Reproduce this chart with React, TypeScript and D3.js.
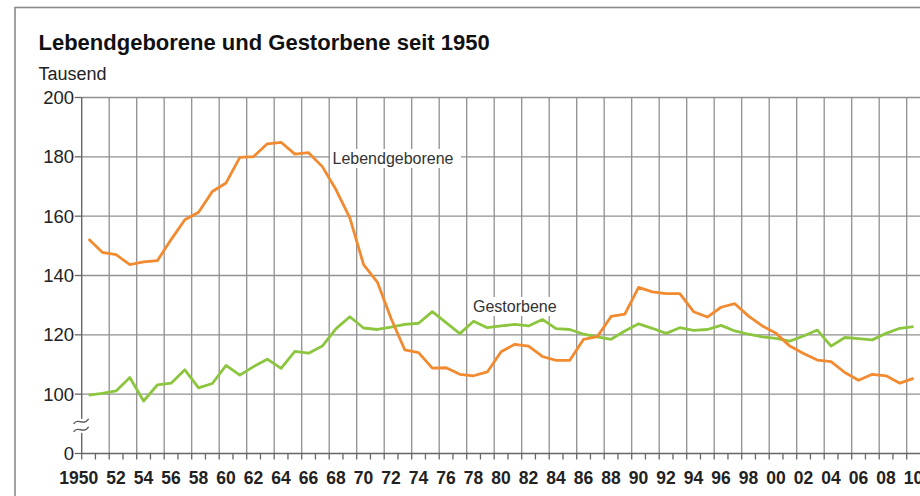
import React from 'react';
import * as d3 from 'd3';

const years = [
  1950, 1951, 1952, 1953, 1954, 1955, 1956, 1957, 1958, 1959,
  1960, 1961, 1962, 1963, 1964, 1965, 1966, 1967, 1968, 1969,
  1970, 1971, 1972, 1973, 1974, 1975, 1976, 1977, 1978, 1979,
  1980, 1981, 1982, 1983, 1984, 1985, 1986, 1987, 1988, 1989,
  1990, 1991, 1992, 1993, 1994, 1995, 1996, 1997, 1998, 1999,
  2000, 2001, 2002, 2003, 2004, 2005, 2006, 2007, 2008, 2009, 2010,
];

const births = [
  152.3, 147.8, 147.0, 143.7, 144.6, 145.0, 152.1, 158.8, 161.3, 168.3,
  171.2, 179.8, 180.1, 184.4, 184.9, 180.9, 181.4, 176.7, 168.9, 159.4,
  143.7, 137.8, 125.5, 114.9, 114.0, 108.8, 108.9, 106.7, 106.2, 107.5,
  114.3, 116.8, 116.2, 112.7, 111.4, 111.4, 118.5, 119.4, 126.2, 127.0,
  136.0, 134.5, 133.9, 133.9, 127.8, 126.0, 129.3, 130.5, 126.3, 123.0,
  120.5, 116.2, 113.7, 111.5, 111.0, 107.3, 104.7, 106.7, 106.2, 103.7, 105.3,
];

const deaths = [
  99.7, 100.3, 101.1, 105.6, 97.7, 103.1, 103.7, 108.2, 102.1, 103.6,
  109.7, 106.4, 109.3, 111.8, 108.7, 114.4, 113.8, 116.2, 122.1, 126.1,
  122.3, 121.8, 122.6, 123.5, 123.9, 127.8, 124.1, 120.4, 124.6, 122.4,
  123.0, 123.5, 123.0, 125.2, 122.1, 121.8, 120.2, 119.3, 118.5, 121.3,
  123.7, 122.2, 120.5, 122.4, 121.5, 121.8, 123.2, 121.3, 120.2, 119.3,
  118.8, 117.9, 119.6, 121.6, 116.2, 119.1, 118.7, 118.3, 120.5, 122.2, 122.8,
];

const yTicks = [0, 100, 120, 140, 160, 180, 200];
const gridValues = [100, 120, 140, 160, 180, 200];
const xLabels = [
  '1950', '52', '54', '56', '58', '60', '62', '64', '66', '68',
  '70', '72', '74', '76', '78', '80', '82', '84', '86', '88',
  '90', '92', '94', '96', '98', '00', '02', '04', '06', '08', '10',
];

const title = 'Lebendgeborene und Gestorbene seit 1950';
const unit = 'Tausend';
const birthLabel = 'Lebendgeborene';
const deathLabel = 'Gestorbene';

const W = 920;
const H = 496;
const FONT = '"Liberation Sans", Arial, Helvetica, sans-serif';

export default function App() {
  const bandW = 13.75;
  const left = 81.7;
  const x = d3
    .scaleBand<number>()
    .domain(years)
    .range([left, left + bandW * years.length])
    .padding(0);
  const yLin = d3.scaleLinear().domain([80, 200]).range([453.5, 97.5]);
  const y = (v: number) => (v === 0 ? yLin(80) : yLin(v));
  const cx = (yr: number) => (x(yr) as number) + x.bandwidth() / 2;

  const line = d3
    .line<number>()
    .x((_, i) => cx(years[i]))
    .y((d) => yLin(d));

  const axisY = y(0);
  const top = y(200);
  const gridColor = '#909090';

  const evenYears = years.filter((yr) => yr % 2 === 0 && yr > 1950);

  const breakY = (y(100) + y(0)) / 2 + 2;

  return (
    <svg
      width={W}
      height={H}
      style={{ position: 'absolute', left: 0, top: 0, background: '#fff' }}
      fontFamily={FONT}
    >
      <rect x={15} y={7.5} width={1000} height={600} fill="#fff" stroke="#8a8a8a" strokeWidth={1.6} />
      <text x={38.5} y={50} fontSize={22} fontWeight="bold" fill="#111">
        {title}
      </text>
      <text x={38.5} y={80} fontSize={18} fill="#222">
        {unit}
      </text>

      {/* horizontal grid */}
      {gridValues.map((v) => (
        <line key={'h' + v} x1={left} x2={W + 10} y1={y(v)} y2={y(v)} stroke={gridColor} strokeWidth={1.3} />
      ))}
      {/* vertical grid */}
      {evenYears.map((yr) => (
        <line
          key={'v' + yr}
          x1={x(yr) as number}
          x2={x(yr) as number}
          y1={top}
          y2={axisY}
          stroke={gridColor}
          strokeWidth={1.3}
        />
      ))}

      {/* y axis */}
      <line x1={left} x2={left} y1={top} y2={axisY} stroke="#666" strokeWidth={1.4} />
      {yTicks.map((v) => (
        <g key={'yt' + v}>
          <line x1={left - 7} x2={left} y1={y(v)} y2={y(v)} stroke="#666" strokeWidth={1.3} />
          <text x={74} y={y(v)} dy="0.36em" textAnchor="end" fontSize={18.5} fill="#222">
            {v}
          </text>
        </g>
      ))}

      {/* axis break */}
      <rect x={left - 3} y={breakY - 7} width={6} height={14} fill="#fff" />
      {[-4, 4].map((o) => (
        <path
          key={'br' + o}
          d={`M${left - 8},${breakY + o + 2} C${left - 4},${breakY + o - 5} ${left + 1},${breakY + o + 5} ${left + 7},${breakY + o - 3}`}
          fill="none"
          stroke="#555"
          strokeWidth={1.4}
        />
      ))}

      {/* x axis */}
      <line x1={left} x2={W + 10} y1={axisY} y2={axisY} stroke="#666" strokeWidth={1.4} />
      {years.map((yr) => (
        <line
          key={'xt' + yr}
          x1={x(yr) as number}
          x2={x(yr) as number}
          y1={axisY}
          y2={axisY + 6}
          stroke="#666"
          strokeWidth={1.3}
        />
      ))}
      {years
        .filter((yr) => yr % 2 === 0)
        .map((yr, i) => {
          const lbl = xLabels[i];
          const twoW = 2 * 0.556 * 17.5;
          return (
            <text
              key={'xl' + yr}
              x={cx(yr) + twoW / 2}
              y={484}
              textAnchor="end"
              fontSize={17.5}
              fontWeight="bold"
              fill="#222"
            >
              {lbl}
            </text>
          );
        })}

      {/* series */}
      <path d={line(deaths) || ''} fill="none" stroke="#8cc63f" strokeWidth={2.8} strokeLinejoin="round" />
      <path d={line(births) || ''} fill="none" stroke="#f28a30" strokeWidth={2.8} strokeLinejoin="round" />

      {/* labels */}
      <rect x={330} y={149} width={131} height={19} fill="#fff" />
      <text x={332.5} y={163.5} fontSize={16} fill="#333">
        {birthLabel}
      </text>
      <rect x={470} y={297} width={94} height={19} fill="#fff" />
      <text x={473} y={311.5} fontSize={16} fill="#333">
        {deathLabel}
      </text>
    </svg>
  );
}
